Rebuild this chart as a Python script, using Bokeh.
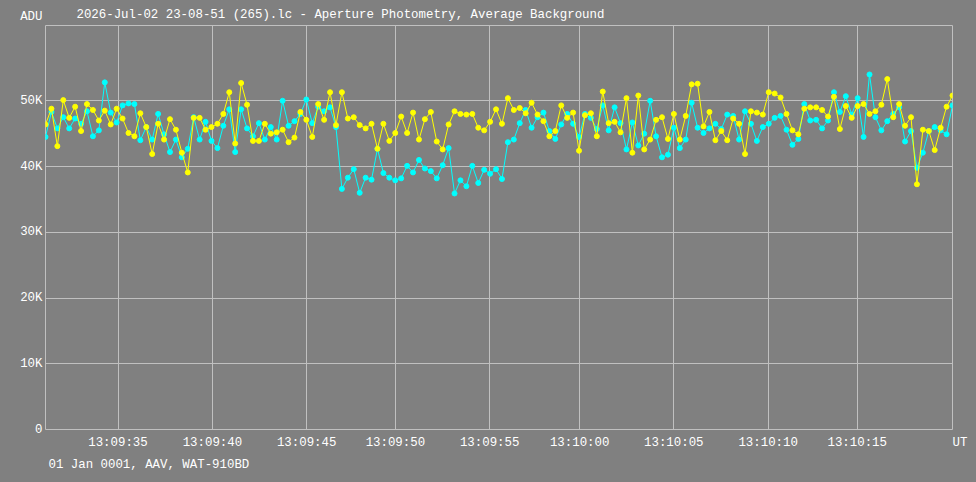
from bokeh.plotting import figure
from bokeh.models import Range1d, FixedTicker, Title
from bokeh.embed import file_html
from bokeh.resources import INLINE

title_text = "2026-Jul-02 23-08-51 (265).lc - Aperture Photometry, Average Background"
footer_text = "01 Jan 0001, AAV, WAT-910BD"
y_unit_label = "ADU"
x_unit_label = "UT"

cyan_adu = [
    44500, 48300, 45800, 47500, 45800, 47300, 46500, 48400, 44600, 45500,
    52800, 48200, 46700, 49300, 49600, 49500, 44000, 46000, 44100, 48000,
    44900, 42200, 44100, 41400, 42700, 47500, 44100, 46800, 43900, 42800,
    46200, 48700, 42200, 48700, 45800, 44600, 46600, 44100, 46000, 44100,
    50000, 46200, 46900, 48000, 50200, 46600, 49100, 48400, 49000, 46000,
    36600, 38300, 39600, 36000, 38300, 38000, 42700, 39000, 38300, 37900,
    38200, 40100, 39100, 41000, 39700, 39300, 38200, 40200, 42800, 35900,
    37900, 37000, 40100, 37500, 39500, 38900, 39600, 38100, 43700, 44100,
    46600, 48600, 45900, 47500, 48200, 45400, 44200, 46400, 48000, 46500,
    44500, 48000, 47400, 45700, 49300, 45500, 49000, 46600, 42600, 46700,
    43200, 45000, 50000, 44600, 41400, 41800, 45900, 42800, 44100, 49700,
    45900, 45100, 45800, 46500, 45700, 47900, 47700, 44100, 48400, 46500,
    43900, 46000, 46500, 47400, 47700, 45600, 43300, 44200, 49500, 47000,
    47100, 45800, 47000, 51300, 48300, 50700, 47900, 50400, 44500, 54000,
    47500, 45500, 46900, 48000, 49000, 43800, 45400, 39800, 42100, 45400,
    46000, 45500, 44900, 49300,
]

yellow_adu = [
    46400, 48800, 43100, 50100, 47400, 49100, 45400, 49500, 48600, 47000,
    48500, 46400, 48800, 47300, 45100, 44600, 48100, 46000, 41900, 46500,
    44100, 47200, 45600, 42100, 39100, 47400, 47400, 45600, 46000, 46500,
    48000, 51300, 43500, 52700, 49400, 43900, 43900, 46500, 45000, 45200,
    45600, 43700, 44400, 48300, 47100, 44500, 49500, 47100, 51300, 46300,
    51300, 47300, 47500, 46300, 45800, 46500, 42700, 46500, 43900, 45100,
    47600, 45100, 48200, 44100, 47200, 48300, 43800, 42600, 46400, 48400,
    48000, 47900, 48000, 45900, 45500, 46800, 48700, 46500, 50400, 48600,
    48900, 48100, 49700, 47900, 46900, 44600, 45400, 49300, 47400, 48200,
    42400, 47800, 48100, 44600, 51400, 46600, 46800, 45200, 50400, 42100,
    50800, 42600, 44100, 47100, 47500, 44200, 48000, 44100, 47700, 52500,
    52600, 46100, 48300, 44000, 45400, 44000, 47300, 46500, 41900, 48400,
    48200, 47900, 51300, 51100, 50500, 48000, 45500, 44900, 48800, 49000,
    49000, 48600, 47600, 50600, 45700, 49200, 47400, 49200, 49500, 48000,
    48400, 49400, 53300, 47500, 49500, 46200, 47500, 37300, 45600, 45400,
    42500, 45900, 49100, 50800,
]

frames = list(range(len(cyan_adu)))
last_frame = len(frames) - 1
y_top = 61450

tick_frames = [12.23, 28.16, 44.06, 59.02, 74.93, 90.11, 105.99, 121.9, 136.93]
tick_labels = ["13:09:35", "13:09:40", "13:09:45", "13:09:50", "13:09:55",
               "13:10:00", "13:10:05", "13:10:10", "13:10:15"]
y_ticks = [0, 10000, 20000, 30000, 40000, 50000]
y_tick_labels = ["0", "10K", "20K", "30K", "40K", "50K"]

BG = "#808080"
GRID = "#c0c0c0"
TXT = "#ffffff"
FONT = "Liberation Mono"
FS = "12.4px"
NB = "\u00a0"

p = figure(width=976, height=482, output_backend="svg", toolbar_location=None,
           x_range=Range1d(0, last_frame), y_range=Range1d(0, y_top),
           min_border_left=45, min_border_right=24, min_border_top=25,
           min_border_bottom=53)
p.background_fill_color = BG
p.border_fill_color = BG
p.outline_line_color = GRID
p.outline_line_width = 1

# x axis: time ticks plus the unit "UT" at the right end
xt = tick_frames + [last_frame]
xl = tick_labels + [NB * 2 + x_unit_label]
p.xaxis.ticker = FixedTicker(ticks=xt)
p.xaxis.major_label_overrides = {t: l for t, l in zip(xt, xl)}
# y axis: value ticks plus the unit "ADU" at the top
yt = y_ticks + [y_top]
yl = y_tick_labels + [y_unit_label + "\n" + NB]
p.yaxis.ticker = FixedTicker(ticks=yt)
p.yaxis.major_label_overrides = {t: l for t, l in zip(yt, yl)}

for ax in (p.xaxis, p.yaxis):
    ax.axis_line_color = None
    ax.major_tick_line_color = None
    ax.minor_tick_line_color = None
    ax.major_tick_out = 0
    ax.major_tick_in = 0
    ax.minor_tick_out = 0
    ax.major_label_text_color = TXT
    ax.major_label_text_font = FONT
    ax.major_label_text_font_size = FS
p.xaxis.major_label_standoff = 6
p.yaxis.major_label_standoff = 3

p.xgrid.grid_line_color = GRID
p.ygrid.grid_line_color = GRID
p.xgrid.grid_line_width = 1
p.ygrid.grid_line_width = 1

p.line(frames, cyan_adu, line_color="#00ffff", line_width=1)
p.scatter(frames, cyan_adu, marker="circle", size=5, fill_color="#00ffff",
          line_color="#00ffff")
p.line(frames, yellow_adu, line_color="#ffff00", line_width=1)
p.scatter(frames, yellow_adu, marker="circle", size=5, fill_color="#ffff00",
          line_color="#ffff00")

p.title.text = title_text
p.title.align = "left"
p.title.offset = 31
p.title.standoff = 7
p.title.text_color = TXT
p.title.text_font = FONT
p.title.text_font_size = FS
p.title.text_font_style = "normal"

footer = Title(text=footer_text, align="left", offset=3, standoff=6,
               text_color=TXT, text_font=FONT, text_font_size=FS,
               text_font_style="normal")
p.add_layout(footer, "below")

template = "{% block preamble %}<style>html, body { background-color: #808080; }</style>{% endblock %}"
open("out.html", "w").write(file_html(p, INLINE, template=template))
